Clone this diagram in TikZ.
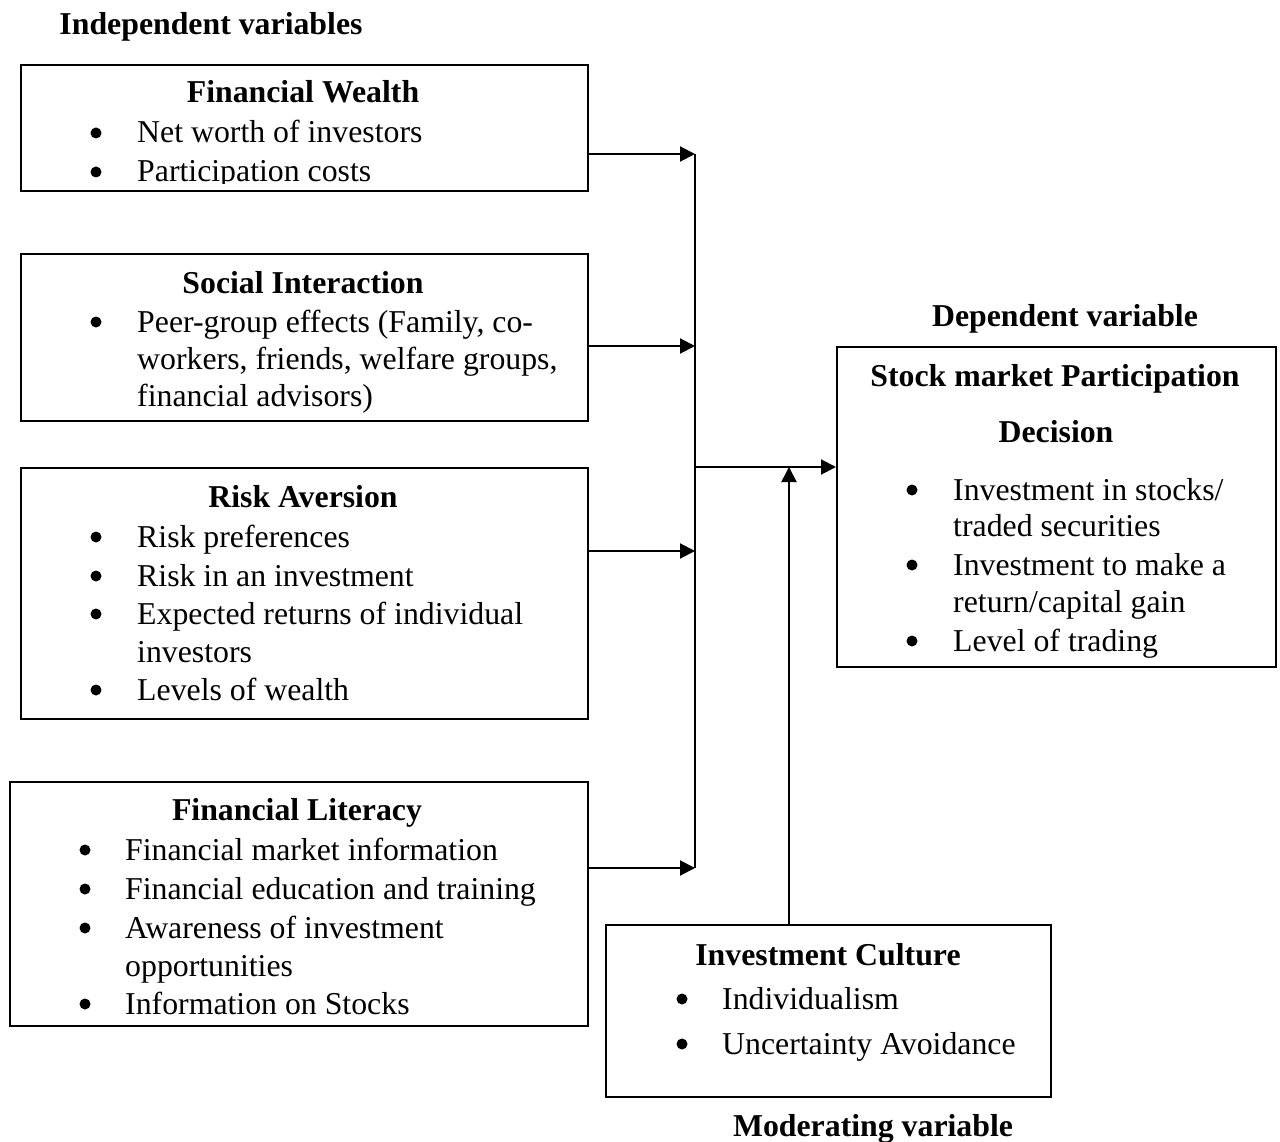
\documentclass[tikz,border=0pt]{standalone}
\usepackage{fontspec}
\setmainfont{Liberation Serif}
\usetikzlibrary{arrows.meta}
\begin{document}
\begin{tikzpicture}[x=1pt,y=-1pt,
 box/.style={draw,line width=2pt,anchor=north west,inner sep=0pt},
 txt/.style={anchor=base west,inner sep=0pt,font=\fontsize{31.8}{38}\selectfont},
 ttl/.style={anchor=base,inner sep=0pt,font=\fontsize{31.8}{38}\selectfont\bfseries},
 bul/.style={circle,fill,inner sep=0pt,minimum size=11pt},
 arr/.style={line width=2pt,-{Triangle[length=15pt,width=15pt]}},
 ln/.style={line width=2pt}]
\useasboundingbox (0,0) rectangle (1280,1142);

% boxes
\node[box,minimum width=567pt,minimum height=126pt] (fw) at (20,64) {};
\node[box,minimum width=567pt,minimum height=167pt] (si) at (20,253) {};
\node[box,minimum width=567pt,minimum height=251pt] (ra) at (20,467) {};
\node[box,minimum width=578pt,minimum height=244pt] (fl) at (9,781) {};
\node[box,minimum width=439pt,minimum height=320pt] (dv) at (836,346) {};
\node[box,minimum width=445pt,minimum height=172pt] (ic) at (605,924) {};

% headings
\node[ttl] (hind) at (211,35) {Independent variables};
\node[ttl] (hdep) at (1065,326) {Dependent variable};
\node[ttl] (hmod) at (873,1136) {Moderating variable};

% Financial Wealth
\begin{scope}
\clip (20,64) rectangle (587,183.5);
\node[ttl] (fwt) at (303,103) {Financial Wealth};
\node[bul] (fwd1) at (96,133) {};
\node[txt] (fw1) at (137,143) {Net worth of investors};
\node[bul] (fwd2) at (96,172) {};
\node[txt] (fw2) at (137,182) {Participation costs};
\end{scope}

% Social Interaction
\node[ttl] (sit) at (303,293) {Social Interaction};
\node[bul] (sid1) at (96,322) {};
\node[txt] (si1) at (137,332) {Peer-group effects (Family, co-};
\node[txt] (si2) at (137,369) {workers, friends, welfare groups,};
\node[txt] (si3) at (137,406) {financial advisors)};

% Risk Aversion
\node[ttl] (rat) at (303,507) {Risk Aversion};
\node[bul] (rad1) at (96,537) {};
\node[txt] (ra1) at (137,547) {Risk preferences};
\node[bul] (rad2) at (96,576) {};
\node[txt] (ra2) at (137,586) {Risk in an investment};
\node[bul] (rad3) at (96,614) {};
\node[txt] (ra3) at (137,624) {Expected returns of individual};
\node[txt] (ra4) at (137,662) {investors};
\node[bul] (rad5) at (96,690) {};
\node[txt] (ra5) at (137,700) {Levels of wealth};

% Financial Literacy
\node[ttl] (flt) at (297,820) {Financial Literacy};
\node[bul] (fld1) at (85,850) {};
\node[txt] (fl1) at (125,860) {Financial market information};
\node[bul] (fld2) at (85,889) {};
\node[txt] (fl2) at (125,899) {Financial education and training};
\node[bul] (fld3) at (85,928) {};
\node[txt] (fl3) at (125,938) {Awareness of investment};
\node[txt] (fl4) at (125,976) {opportunities};
\node[bul] (fld5) at (85,1004) {};
\node[txt] (fl5) at (125,1014) {Information on Stocks};

% Stock market participation
\node[ttl] (dvt) at (1055,386) {Stock market Participation};
\node[ttl] (dvt2) at (1056,442) {Decision};
\node[bul] (dvd1) at (912,490) {};
\node[txt] (dv1) at (953,500) {Investment in stocks/};
\node[txt] (dv2) at (953,536) {traded securities};
\node[bul] (dvd3) at (912,565) {};
\node[txt] (dv3) at (953,575) {Investment to make a};
\node[txt] (dv4) at (953,612) {return/capital gain};
\node[bul] (dvd5) at (912,641) {};
\node[txt] (dv5) at (953,651) {Level of trading};

% Investment Culture
\node[ttl] (ict) at (828,965) {Investment Culture};
\node[bul] (icd1) at (682,999) {};
\node[txt] (ic1) at (722,1009) {Individualism};
\node[bul] (icd2) at (682,1044) {};
\node[txt] (ic2) at (722,1054) {Uncertainty Avoidance};

% connectors
\coordinate (j1) at (695,154);
\coordinate (j2) at (695,346);
\coordinate (j3) at (695,551);
\coordinate (j4) at (695,868);
\coordinate (jm) at (695,467);
\coordinate (jc) at (789,467);
\draw[arr] (fw.east |- j1) -- (j1);
\draw[arr] (si.east |- j2) -- (j2);
\draw[arr] (ra.east |- j3) -- (j3);
\draw[arr] (fl.east |- j4) -- (j4);
\draw[ln] (j1) -- (j4);
\draw[arr] (jm) -- (dv.west |- jm);
\draw[arr] (jc |- ic.north) -- (jc);
\end{tikzpicture}
\end{document}
